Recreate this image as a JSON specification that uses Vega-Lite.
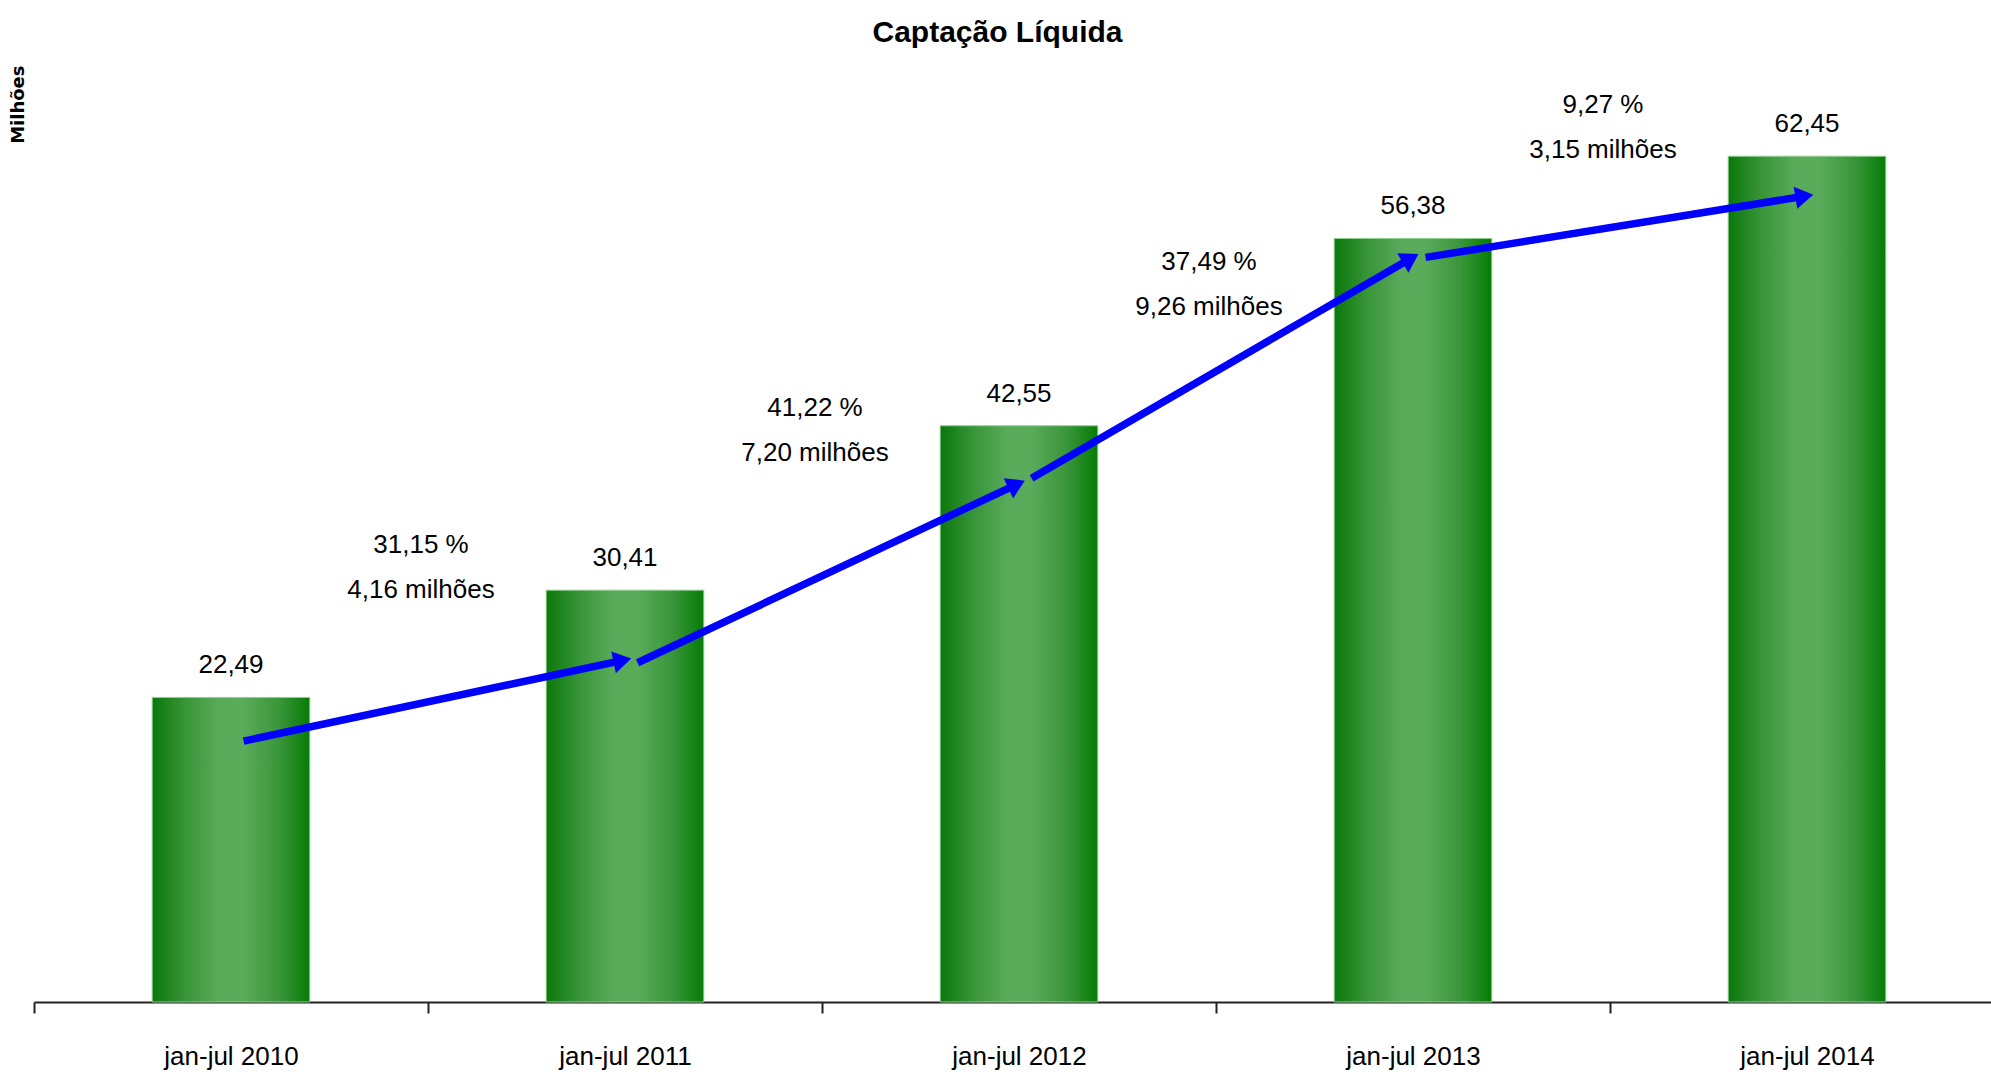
{
  "$schema": "https://vega.github.io/schema/vega-lite/v6.json",
  "width": 1957,
  "height": 948,
  "autosize": {"type": "none"},
  "padding": {"left": 34, "top": 54, "right": 0, "bottom": 70},
  "background": "white",
  "config": {
    "view": {"stroke": null},
    "locale": {"number": {"decimal": ",", "thousands": ".", "grouping": [3], "currency": ["R$", ""]}},
    "font": "Liberation Sans"
  },
  "title": {
    "text": "Captação Líquida",
    "font": "Liberation Sans",
    "fontSize": 30,
    "fontWeight": "bold",
    "color": "#000000",
    "anchor": "middle",
    "baseline": "alphabetic",
    "offset": 13,
    "dy": 31,
    "dx": -15
  },
  "datasets": {
    "bars": [
      {"period": "jan-jul 2010", "value": 22.49},
      {"period": "jan-jul 2011", "value": 30.41},
      {"period": "jan-jul 2012", "value": 42.55},
      {"period": "jan-jul 2013", "value": 56.38},
      {"period": "jan-jul 2014", "value": 62.45}
    ],
    "arrows": [
      {"from": "jan-jul 2010", "to": "jan-jul 2011", "v1": 19.26, "v2": 25.26, "pct": 31.15, "diff": 4.16, "ny": 33.71},
      {"from": "jan-jul 2011", "to": "jan-jul 2012", "v1": 25.05, "v2": 38.30, "pct": 41.22, "diff": 7.20, "ny": 43.86},
      {"from": "jan-jul 2012", "to": "jan-jul 2013", "v1": 38.68, "v2": 55.00, "pct": 37.49, "diff": 9.26, "ny": 54.64},
      {"from": "jan-jul 2013", "to": "jan-jul 2014", "v1": 54.98, "v2": 59.53, "pct": 9.27, "diff": 3.15, "ny": 66.23}
    ]
  },
  "layer": [
    {
      "data": {"name": "bars"},
      "mark": {
        "type": "bar",
        "fill": {
          "gradient": "linear", "x1": 0, "y1": 0, "x2": 1, "y2": 0,
          "stops": [
            {"offset": 0, "color": "#0b780b"},
            {"offset": 0.22, "color": "#3a963a"},
            {"offset": 0.42, "color": "#59aa59"},
            {"offset": 0.58, "color": "#5aab5a"},
            {"offset": 0.8, "color": "#3a963a"},
            {"offset": 1, "color": "#067c06"}
          ]
        },
        "stroke": "#8fcf8f",
        "strokeWidth": 1
      },
      "encoding": {
        "x": {
          "field": "period", "type": "nominal", "sort": null,
          "scale": {"domain": ["jan-jul 2010", "jan-jul 2011", "jan-jul 2012", "jan-jul 2013", "jan-jul 2014"], "range": [0, 1970], "paddingInner": 0.6, "paddingOuter": 0.3},
          "axis": {
            "title": null, "labelAngle": 0, "labelFontSize": 26, "labelFont": "Liberation Sans",
            "labelColor": "#000000", "labelBaseline": "alphabetic", "labelPadding": 51, "labelOffset": 197,
            "tickBand": "center", "tickOffset": -197, "ticks": true, "tickSize": 11, "tickColor": "#222222", "tickWidth": 2,
            "domainColor": "#222222", "domainWidth": 2, "grid": false
          }
        },
        "y": {
          "field": "value", "type": "quantitative",
          "scale": {"domain": [0, 70], "nice": false, "zero": true},
          "axis": {
            "title": "Milhões", "labels": false, "ticks": false, "domain": false, "grid": false,
            "titleFont": "DejaVu Sans", "titleFontSize": 18, "titleFontWeight": "bold",
            "titleAngle": 270, "titleAnchor": "end", "titlePadding": 7, "titleY": 11, "titleColor": "#000000"
          }
        }
      }
    },
    {
      "data": {"name": "bars"},
      "mark": {"type": "text", "baseline": "alphabetic", "dy": -24, "fontSize": 26, "font": "Liberation Sans", "color": "#000000"},
      "encoding": {
        "x": {"field": "period", "type": "nominal", "sort": null},
        "y": {"field": "value", "type": "quantitative"},
        "text": {"field": "value", "type": "quantitative", "format": ".2f"}
      }
    },
    {
      "data": {"name": "arrows"},
      "mark": {"type": "rule", "color": "#0000ff", "strokeWidth": 7.5, "strokeCap": "butt"},
      "encoding": {
        "x": {"field": "from", "type": "nominal", "sort": null, "bandPosition": 0.58},
        "x2": {"field": "to"},
        "y": {"field": "v1", "type": "quantitative"},
        "y2": {"field": "v2"}
      }
    },
    {
      "data": {"name": "arrows"},
      "transform": [
        {"calculate": "-atan2((datum.v2 - datum.v1) * 13.543, 381.4) * 180 / PI", "as": "ang"}
      ],
      "mark": {"type": "point", "shape": "M0.35,0L-0.65,-0.62L-0.65,0.62Z", "size": 1296, "filled": true, "fill": "#0000ff", "strokeWidth": 0, "opacity": 1},
      "encoding": {
        "x": {"field": "to", "type": "nominal", "sort": null},
        "y": {"field": "v2", "type": "quantitative"},
        "angle": {"field": "ang", "type": "quantitative", "scale": null}
      }
    },
    {
      "data": {"name": "arrows"},
      "transform": [
        {"calculate": "replace(format(datum.pct, '.2f'), '.', ',') + ' %|' + replace(format(datum.diff, '.2f'), '.', ',') + ' milhões'", "as": "label"}
      ],
      "mark": {"type": "text", "lineBreak": "|", "lineHeight": 45, "baseline": "middle", "dx": 190, "fontSize": 26, "font": "Liberation Sans", "color": "#000000"},
      "encoding": {
        "x": {"field": "from", "type": "nominal", "sort": null},
        "y": {"field": "ny", "type": "quantitative"},
        "text": {"field": "label", "type": "nominal"}
      }
    }
  ]
}
